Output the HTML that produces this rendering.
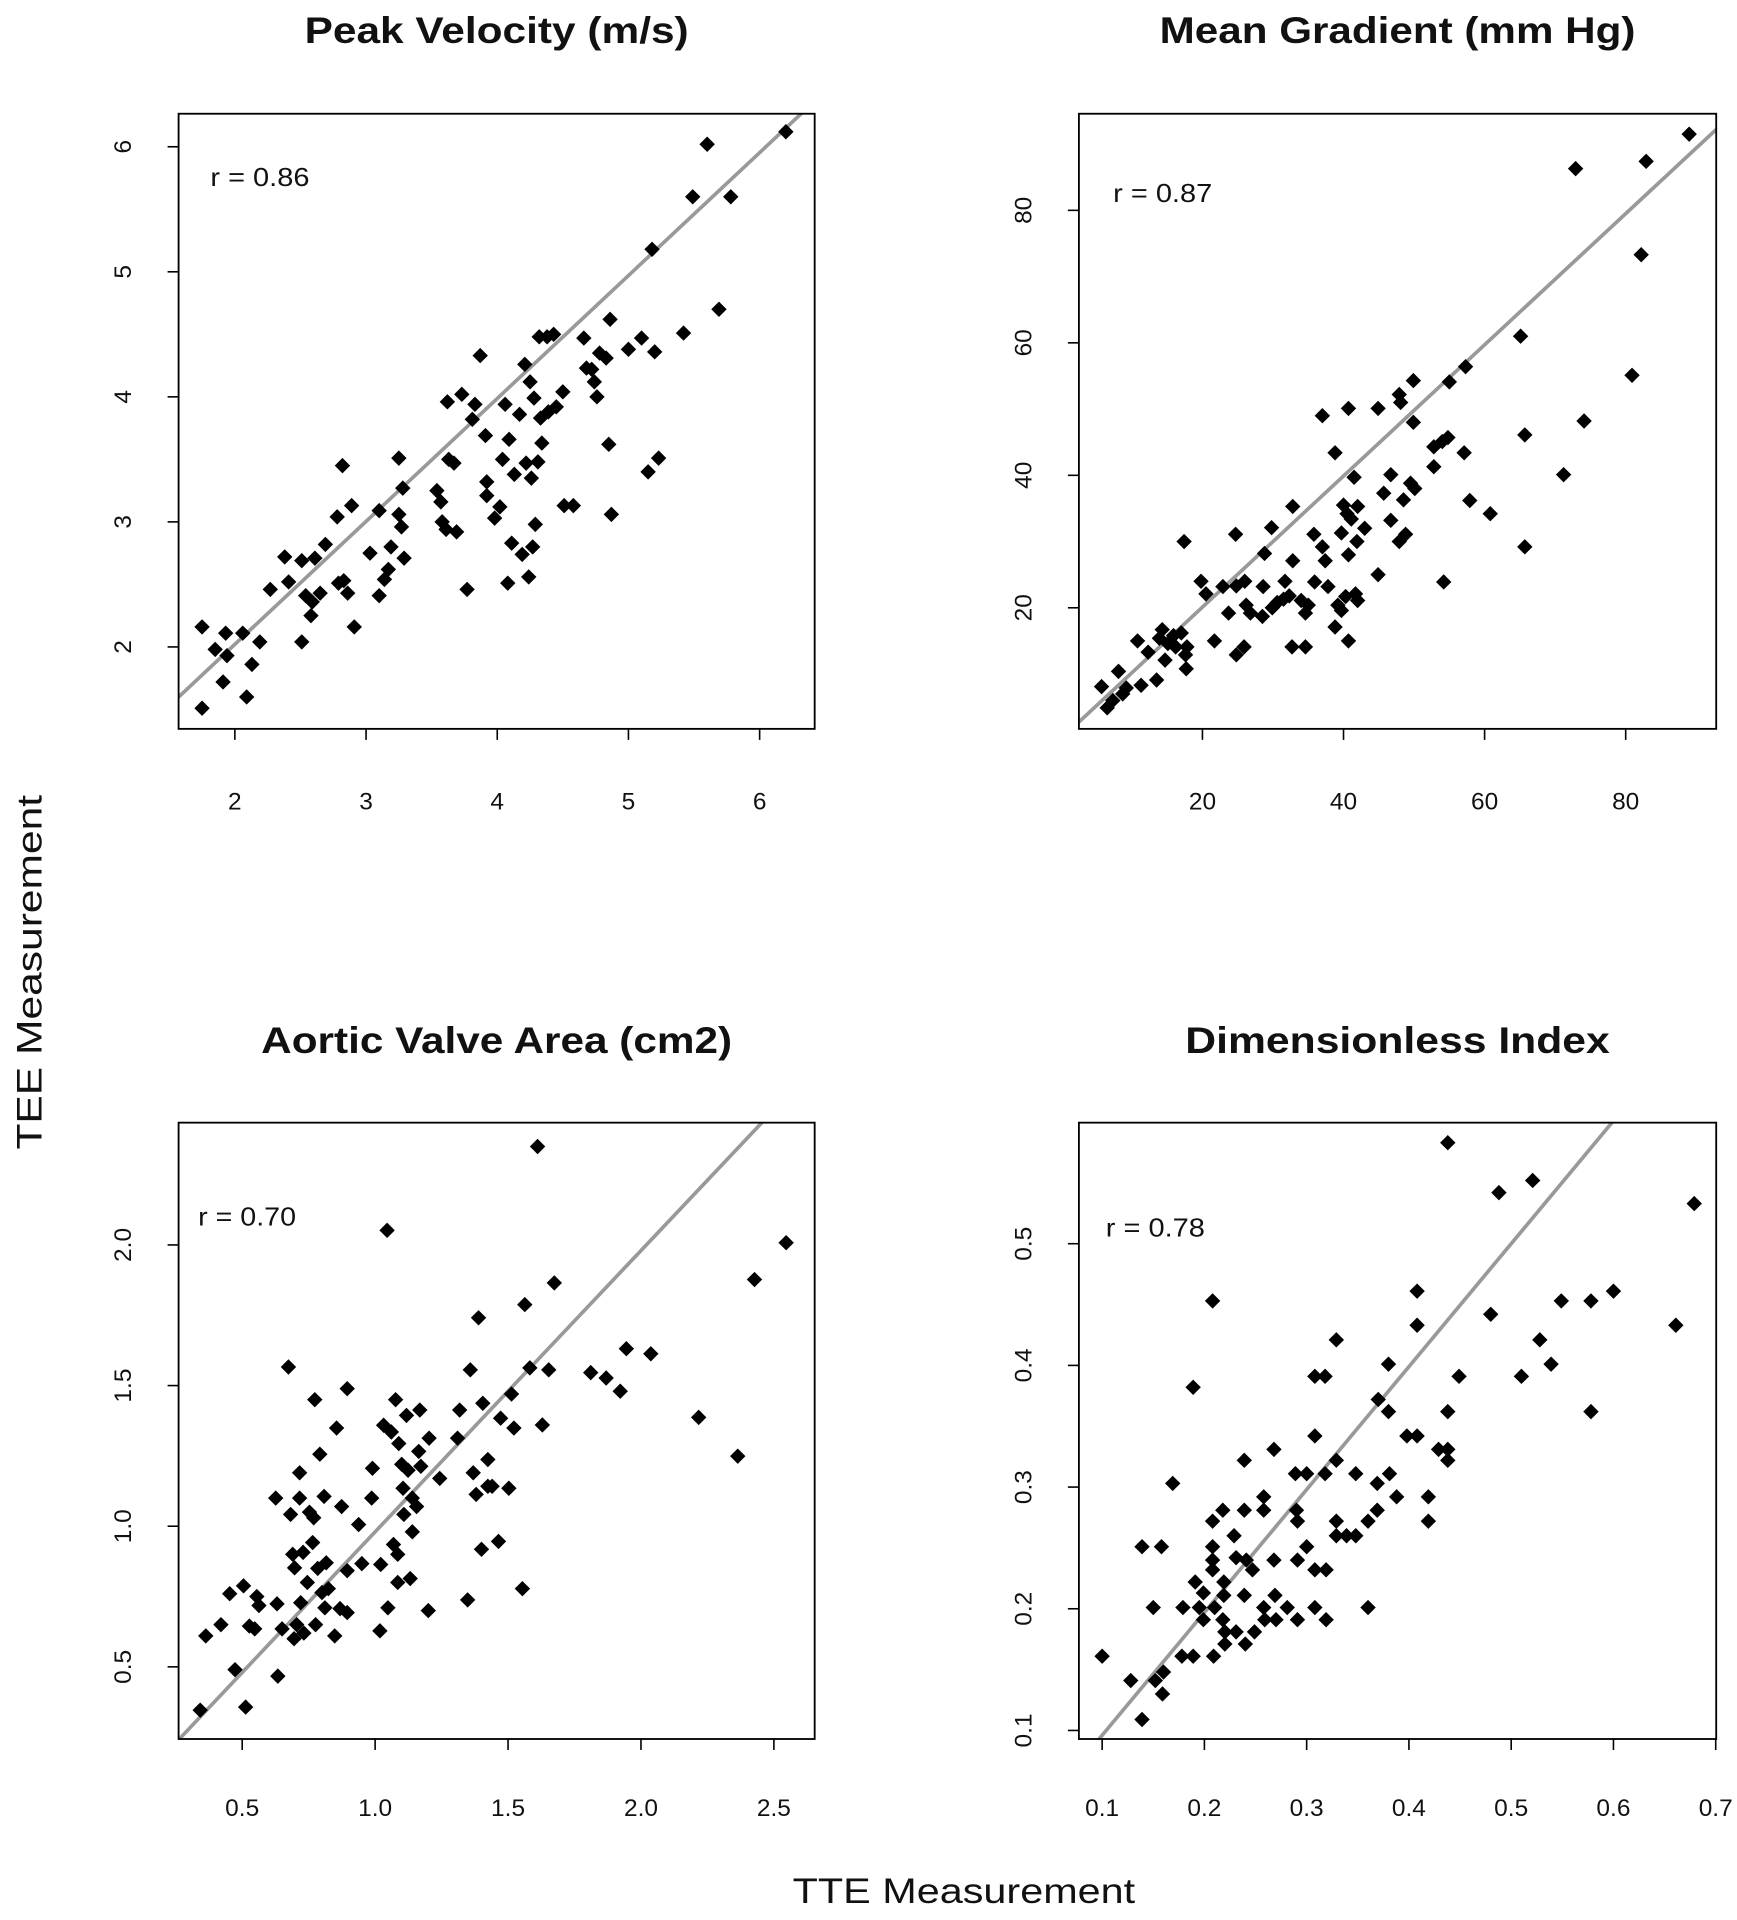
<!DOCTYPE html>
<html><head><meta charset="utf-8"><style>
html,body{margin:0;padding:0;background:#fff;width:1737px;height:1920px;overflow:hidden}
svg{display:block}
text{font-family:"Liberation Sans",Arial,sans-serif;fill:#111}
</style></head><body>
<svg id="fig" width="1737" height="1920" viewBox="0 0 1420 1570" preserveAspectRatio="none" xmlns="http://www.w3.org/2000/svg">
<text x="0" y="0" transform="translate(34,795) rotate(-90)" text-anchor="middle" font-size="29" textLength="290" lengthAdjust="spacingAndGlyphs">TEE Measurement</text>
<text x="788" y="1556" text-anchor="middle" font-size="29" textLength="280" lengthAdjust="spacingAndGlyphs">TTE Measurement</text>
</svg>
<script>
const pvX=[1.75,1.75,1.85,1.93,1.91,1.94,2.06,2.09,2.13,2.19,2.27,2.38,2.41,2.51,2.51,2.54,2.58,2.59,2.61,2.65,2.69,2.78,2.79,2.83,2.82,2.86,2.89,2.91,3.03,3.10,3.10,3.14,3.17,3.19,3.25,3.25,3.28,3.27,3.29,3.54,3.57,3.58,3.61,3.62,3.63,3.67,3.69,3.73,3.77,3.81,3.83,3.87,3.91,3.92,3.92,3.98,4.02,4.04,4.06,4.08,4.09,4.11,4.13,4.17,4.19,4.21,4.22,4.24,4.25,4.26,4.27,4.28,4.29,4.31,4.32,4.33,4.34,4.38,4.39,4.43,4.45,4.50,4.51,4.58,4.66,4.68,4.72,4.74,4.76,4.78,4.83,4.85,4.86,4.87,5.0,5.10,5.15,5.18,5.20,5.23,5.42,5.49,5.60,5.69,5.78,6.20];
const pvY=[2.16,1.51,1.98,2.11,1.72,1.93,2.11,1.60,1.86,2.04,2.46,2.72,2.52,2.04,2.69,2.41,2.25,2.36,2.71,2.43,2.82,3.04,2.51,2.53,3.45,2.43,3.13,2.16,2.75,3.09,2.41,2.54,2.62,2.80,3.51,3.06,3.27,2.96,2.71,3.25,3.16,3.0,2.94,3.96,3.50,3.47,2.92,4.02,2.46,3.82,3.94,4.33,3.69,3.32,3.21,3.03,3.12,3.50,3.94,2.51,3.66,2.83,3.38,3.86,2.74,4.26,3.47,2.56,4.12,3.35,2.80,3.99,2.98,3.48,4.48,3.83,3.63,4.48,3.88,4.50,3.92,4.04,3.13,3.13,4.47,4.23,4.22,4.12,4.0,4.35,4.31,3.62,4.62,3.06,4.38,4.47,3.40,5.18,4.36,3.51,4.51,5.60,6.02,4.70,5.60,6.12];
const mgX=[5.7,6.5,7.3,8.1,8.7,9.2,10.8,11.3,12.3,13.5,13.9,14.3,14.7,15.1,15.9,16.2,17.0,17.4,17.6,17.7,17.8,19.8,20.5,21.7,22.9,23.7,24.7,24.8,24.8,25.9,26.0,26.2,26.8,28.5,28.8,28.6,29.8,29.9,30.6,31.5,31.7,32.3,32.7,32.8,32.8,34.0,34.6,34.6,35.0,35.8,35.9,37.0,37.0,37.4,37.8,38.8,38.8,39.2,39.7,39.7,40.0,40.3,40.5,40.7,40.7,40.7,41.1,41.5,41.7,41.9,42.0,42.0,43.0,44.9,44.9,45.7,46.7,46.7,47.9,47.9,48.1,48.5,48.8,49.5,49.9,49.9,50.1,52.8,52.8,54.0,54.2,54.8,55.0,57.1,57.3,57.9,60.8,65.1,65.7,65.7,71.2,72.9,74.1,80.9,82.2,82.9,89.0];
const mgY=[8.1,4.9,6.0,10.4,7.0,7.9,15.0,8.3,13.3,9.1,15.4,16.7,12.1,14.6,15.8,14.1,16.2,30.0,12.9,10.8,14.1,24.0,22.1,15.0,23.2,19.2,31.1,23.3,12.9,14.1,24.0,20.4,19.2,18.7,28.2,23.2,32.1,20.0,20.8,21.3,24.0,21.8,14.1,27.1,35.3,21.1,14.1,19.2,20.4,31.1,23.9,49.0,29.2,27.1,23.2,43.4,17.1,20.4,19.6,31.3,35.5,21.7,34.2,28.0,15.0,50.1,33.4,39.7,22.1,30.0,35.3,21.1,32.0,25.0,50.1,37.3,33.2,40.1,30.0,52.2,51.0,36.3,31.1,38.8,48.0,54.3,38.0,41.3,44.3,45.1,23.9,45.7,54.1,43.4,56.4,36.2,34.2,61.0,46.1,29.2,40.1,86.3,48.2,55.1,73.3,87.4,91.5];
const avX=[0.342,0.363,0.42,0.453,0.473,0.505,0.513,0.527,0.547,0.555,0.563,0.626,0.631,0.634,0.65,0.674,0.682,0.69,0.695,0.697,0.705,0.716,0.716,0.72,0.729,0.732,0.745,0.753,0.765,0.769,0.773,0.776,0.784,0.792,0.80,0.808,0.811,0.816,0.824,0.848,0.855,0.868,0.874,0.895,0.895,0.895,0.938,0.95,0.987,0.99,1.018,1.021,1.032,1.045,1.048,1.061,1.069,1.077,1.085,1.085,1.089,1.10,1.105,1.108,1.118,1.124,1.132,1.14,1.14,1.156,1.164,1.168,1.172,1.20,1.203,1.243,1.31,1.318,1.348,1.358,1.369,1.38,1.389,1.40,1.405,1.424,1.424,1.44,1.464,1.472,1.503,1.513,1.522,1.554,1.563,1.582,1.611,1.629,1.653,1.674,1.811,1.869,1.922,1.945,2.037,2.217,2.364,2.427,2.546];
const avY=[0.346,0.61,0.65,0.76,0.49,0.788,0.357,0.645,0.635,0.75,0.718,1.10,0.724,0.467,0.635,1.566,1.042,0.90,0.60,0.852,0.65,1.19,1.10,0.728,0.907,0.62,0.80,1.05,0.942,1.03,1.45,0.65,0.85,1.256,0.764,1.106,0.71,0.87,0.778,0.61,1.349,0.707,1.07,0.693,1.489,0.842,1.006,0.867,1.10,1.206,0.628,0.864,1.359,2.052,0.71,1.335,0.935,1.45,0.90,0.80,1.294,1.22,1.135,1.042,1.394,1.199,0.814,1.10,0.98,1.07,1.266,1.413,1.213,0.70,1.313,1.17,1.313,1.413,0.738,1.556,1.19,1.113,1.741,0.918,1.437,1.142,1.237,1.142,0.946,1.384,1.135,1.47,1.349,0.778,1.788,1.563,2.35,1.36,1.556,1.865,1.546,1.527,1.48,1.631,1.613,1.387,1.249,1.877,2.008];
const diX=[0.100,0.128,0.139,0.139,0.150,0.152,0.158,0.159,0.160,0.169,0.178,0.179,0.189,0.189,0.191,0.195,0.199,0.199,0.208,0.208,0.208,0.208,0.208,0.209,0.21,0.218,0.218,0.219,0.219,0.22,0.22,0.229,0.231,0.231,0.239,0.239,0.239,0.24,0.241,0.247,0.249,0.258,0.258,0.258,0.259,0.268,0.268,0.269,0.27,0.281,0.289,0.29,0.291,0.291,0.291,0.30,0.30,0.308,0.308,0.308,0.308,0.318,0.318,0.319,0.319,0.329,0.329,0.329,0.329,0.339,0.348,0.348,0.36,0.36,0.369,0.369,0.37,0.38,0.38,0.381,0.388,0.398,0.408,0.408,0.408,0.419,0.419,0.429,0.438,0.438,0.438,0.438,0.449,0.48,0.488,0.51,0.521,0.528,0.539,0.549,0.578,0.578,0.60,0.661,0.679];
const diY=[0.161,0.141,0.109,0.251,0.201,0.141,0.251,0.130,0.148,0.303,0.161,0.201,0.382,0.161,0.222,0.201,0.191,0.213,0.453,0.272,0.251,0.240,0.232,0.161,0.201,0.281,0.191,0.211,0.222,0.181,0.171,0.260,0.242,0.181,0.322,0.281,0.211,0.171,0.240,0.232,0.181,0.292,0.281,0.201,0.191,0.331,0.240,0.211,0.191,0.201,0.311,0.281,0.272,0.240,0.191,0.311,0.251,0.232,0.201,0.391,0.342,0.391,0.311,0.232,0.191,0.421,0.322,0.272,0.260,0.260,0.311,0.260,0.272,0.201,0.303,0.281,0.372,0.401,0.362,0.311,0.292,0.342,0.342,0.461,0.433,0.272,0.292,0.331,0.331,0.322,0.362,0.583,0.391,0.442,0.542,0.391,0.552,0.421,0.401,0.453,0.453,0.362,0.461,0.433,0.533];
const pvXTicks=[2,3,4,5,6], pvYTicks=[2,3,4,5,6];
const mgXTicks=[20,40,60,80], mgYTicks=[20,40,60,80];
const avXTicks=[0.5,1.0,1.5,2.0,2.5], avYTicks=[0.5,1.0,1.5,2.0];
const diXTicks=[0.1,0.2,0.3,0.4,0.5,0.6,0.7], diYTicks=[0.1,0.2,0.3,0.4,0.5];
const titles=["Peak Velocity (m/s)","Mean Gradient (mm Hg)","Aortic Valve Area (cm2)","Dimensionless Index"];
const rLabels=["r = 0.86","r = 0.87","r = 0.70","r = 0.78"];
const fitSlope=[0.983,0.99,1.0,1.01], fitIntercept=[0.055,0.3,-0.02,-0.005];

const NS="http://www.w3.org/2000/svg";
const svg=document.getElementById('fig');
function mk(tag,attrs,parent){const e=document.createElementNS(NS,tag);for(const k in attrs)e.setAttribute(k,attrs[k]);(parent||svg).appendChild(e);return e;}

const panels=[
 {key:'peak-velocity',box:[146,93,666,596],xr:[2,6],xp:[192,621],yr:[2,6],yp:[529,120],X:pvX,Y:pvY,xt:pvXTicks,yt:pvYTicks,fmtX:v=>String(v),fmtY:v=>String(v),titleY:35,tl:314,rPos:[172,152],rl:81,xl:662},
 {key:'mean-gradient',box:[882,93,1403,596],xr:[20,80],xp:[983,1329],yr:[20,80],yp:[497,172],X:mgX,Y:mgY,xt:mgXTicks,yt:mgYTicks,fmtX:v=>String(v),fmtY:v=>String(v),titleY:35,tl:389,rPos:[910,165],rl:81,xl:662},
 {key:'aortic-valve-area',box:[146,918,666,1422],xr:[0.5,2.0],xp:[198,524],yr:[0.5,2.0],yp:[1363,1018],X:avX,Y:avY,xt:avXTicks,yt:avYTicks,fmtX:v=>v.toFixed(1),fmtY:v=>v.toFixed(1),titleY:861,tl:385,rPos:[162,1002],rl:80,xl:1485},
 {key:'dimensionless-index',box:[882,918,1403,1422],xr:[0.1,0.6],xp:[901,1319],yr:[0.1,0.5],yp:[1415,1017],X:diX,Y:diY,xt:diXTicks,yt:diYTicks,fmtX:v=>v.toFixed(1),fmtY:v=>v.toFixed(1),titleY:861,tl:347,rPos:[904,1011],rl:81,xl:1485}
];

panels.forEach((p,i)=>{
 const g=mk('g',{});
 
 
 const [x0,y0,x1,y1]=p.box;
 const sx=v=>p.xp[0]+(v-p.xr[0])*(p.xp[1]-p.xp[0])/(p.xr[1]-p.xr[0]);
 const sy=v=>p.yp[0]+(v-p.yr[0])*(p.yp[1]-p.yp[0])/(p.yr[1]-p.yr[0]);
 const t=mk('text',{x:(x0+x1)/2,y:p.titleY,'text-anchor':'middle','font-size':'30','font-weight':'bold',textLength:p.tl,lengthAdjust:'spacingAndGlyphs'},g);
 t.textContent=titles[i];
 
 
 const cp=mk('clipPath',{id:'clip'+i},g);
 mk('rect',{x:x0,y:y0,width:x1-x0,height:y1-y0},cp);
 const fx0=p.xr[0]-(p.xr[1]-p.xr[0]), fx1=p.xr[1]+(p.xr[1]-p.xr[0]);
 const ln=mk('line',{x1:sx(fx0),y1:sy(fitSlope[i]*fx0+fitIntercept[i]),x2:sx(fx1),y2:sy(fitSlope[i]*fx1+fitIntercept[i]),stroke:'#999','stroke-width':'3','clip-path':'url(#clip'+i+')'},g);
 
 
 p.X.forEach((xv,j)=>{
  const cx=sx(xv), cy=sy(p.Y[j]), r=6.3;
  const d=mk('polygon',{points:`${cx},${cy-r} ${cx+r},${cy} ${cx},${cy+r} ${cx-r},${cy}`,fill:'#000'},g);
  
  
 });
 const b=mk('rect',{x:x0,y:y0,width:x1-x0,height:y1-y0,fill:'none',stroke:'#000','stroke-width':'1.5'},g);
 
 
 p.xt.forEach(v=>{
  const x=sx(v);
  mk('line',{x1:x,y1:y1,x2:x,y2:y1+9,stroke:'#000','stroke-width':'1.3'},g);
  const tl=mk('text',{x:x,y:p.xl,'text-anchor':'middle','font-size':'20'},g);
  tl.textContent=p.fmtX(v);
  
  
 });
 p.yt.forEach(v=>{
  const y=sy(v);
  mk('line',{x1:x0,y1:y,x2:x0-9,y2:y,stroke:'#000','stroke-width':'1.3'},g);
  const tl=mk('text',{x:0,y:0,transform:`translate(${x0-45},${y}) rotate(-90)`,'text-anchor':'middle','dominant-baseline':'central','font-size':'20'},g);
  tl.textContent=p.fmtY(v);
  
  
 });
 const rl=mk('text',{x:p.rPos[0],y:p.rPos[1],'font-size':'21',textLength:p.rl,lengthAdjust:'spacingAndGlyphs'},g);
 rl.textContent=rLabels[i];
 
 
});
</script>
</body></html>
